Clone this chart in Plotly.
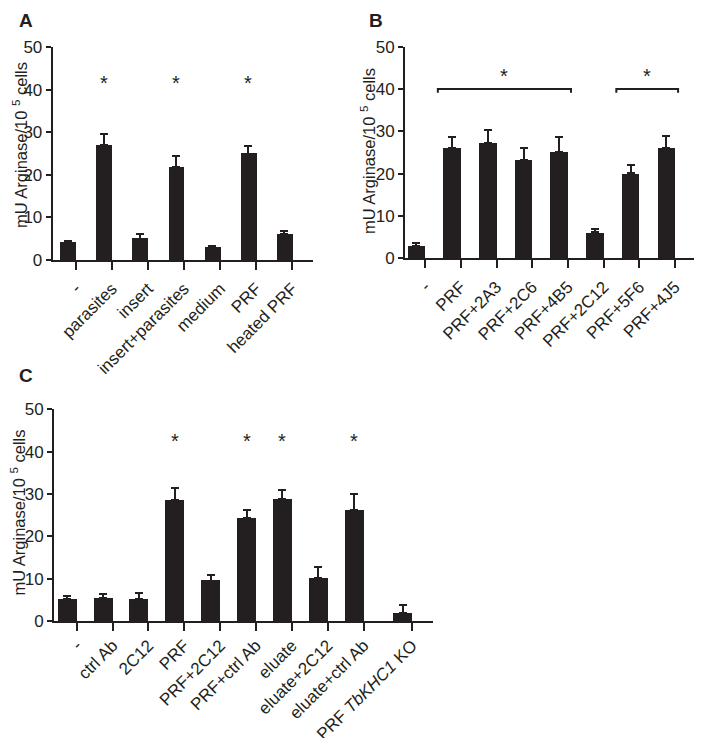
import plotly.graph_objects as go

# ---------------- data ----------------
a_labels = ["-", "parasites", "insert", "insert+parasites", "medium", "PRF", "heated PRF"]
a_values = [4.1, 27.0, 5.0, 21.9, 3.1, 25.0, 6.0]
a_errors = [0.4, 2.7, 1.0, 2.6, 0.2, 1.8, 0.9]
a_sig = [1, 3, 5]

b_labels = ["-", "PRF", "PRF+2A3", "PRF+2C6", "PRF+4B5", "PRF+2C12", "PRF+5F6", "PRF+4J5"]
b_values = [2.9, 26.1, 27.2, 23.2, 25.1, 6.1, 20.1, 26.1]
b_errors = [0.6, 2.6, 3.0, 2.9, 3.6, 0.9, 1.9, 2.7]
b_brackets = [(1, 4), (6, 7)]

c_labels = ["-", "ctrl Ab", "2C12", "PRF", "PRF+2C12", "PRF+ctrl Ab", "eluate",
            "eluate+2C12", "eluate+ctrl Ab", "PRF <i>TbKHC1</i> KO"]
c_values = [5.2, 5.35, 5.2, 28.6, 9.5, 24.3, 28.7, 10.2, 26.1, 1.9]
c_errors = [0.7, 0.95, 1.5, 2.7, 1.3, 1.9, 2.2, 2.6, 3.8, 1.9]
c_sig = [3, 5, 6, 8]

y_ticks = [0, 10, 20, 30, 40, 50]

# ---------------- style ----------------
INK = "#231f20"
FONT = "Liberation Sans, Arial, sans-serif"
PAGE_W, PAGE_H = 702, 738
OFF = 8  # default page body margin
W, H = PAGE_W - OFF, PAGE_H - OFF

fig = go.Figure()


def px_x(p):
    return min(1.0, max(0.0, (p - OFF) / W))


def px_y(p):
    return min(1.0, max(0.0, 1 - (p - OFF) / H))


panels = [
    dict(ax="", labels=a_labels, values=a_values, errors=a_errors,
         pos=list(range(len(a_labels))), width=0.44, xr=[-0.42, 6.79],
         xd=(52.7, 313), yd=(47.3, 260), standoff=2),
    dict(ax="2", labels=b_labels, values=b_values, errors=b_errors,
         pos=list(range(len(b_labels))), width=0.49, xr=[-0.32, 7.86],
         xd=(405, 697), yd=(46.7, 258.3), standoff=2),
    dict(ax="3", labels=c_labels, values=c_values, errors=c_errors,
         pos=list(range(len(c_labels) - 1)) + [len(c_labels) - 1 + 0.35], width=0.53,
         xr=[-0.37, 10.2], xd=(54, 433), yd=(409.3, 621), standoff=-2),
]

for p in panels:
    n = len(p["values"])
    fig.add_trace(go.Bar(
        x=p["pos"], y=p["values"], width=p["width"],
        marker=dict(color=INK, line=dict(width=0)),
        error_y=dict(type="data", array=p["errors"], arrayminus=[0] * n,
                     symmetric=False, color=INK, thickness=2, width=4),
        xaxis="x" + p["ax"], yaxis="y" + p["ax"], showlegend=False,
        hoverinfo="skip",
    ))
    xkey = "xaxis" + p["ax"]
    ykey = "yaxis" + p["ax"]
    fig.update_layout(**{
        xkey: dict(
            domain=[px_x(p["xd"][0]), px_x(p["xd"][1])],
            anchor="y" + p["ax"], range=p["xr"],
            tickvals=[x + p["width"] / 2 for x in p["pos"]],
            ticktext=p["labels"], tickangle=-45, ticklabelstandoff=p["standoff"],
            ticks="outside", ticklen=8, tickwidth=2, tickcolor=INK,
            showline=True, linewidth=2, linecolor=INK,
            showgrid=False, zeroline=False, automargin=False,
            tickfont=dict(family=FONT, size=17, color=INK),
            fixedrange=True,
        ),
        ykey: dict(
            domain=[px_y(p["yd"][1]), px_y(p["yd"][0])],
            anchor="x" + p["ax"], range=[0, 50],
            tickvals=y_ticks, ticks="outside", ticklen=5, tickwidth=2, tickcolor=INK,
            showline=True, linewidth=2, linecolor=INK,
            showgrid=False, zeroline=False, automargin=False,
            tickfont=dict(family=FONT, size=17, color=INK),
            fixedrange=True,
        ),
    })

annotations = []

for p, sig, ylev in [(panels[0], a_sig, 41.5), (panels[2], c_sig, 42.6)]:
    for i in sig:
        annotations.append(dict(
            x=p["pos"][i], y=ylev, xref="x" + p["ax"], yref="y" + p["ax"],
            text="*", showarrow=False, xanchor="center", yanchor="middle",
            font=dict(family=FONT, size=20, color=INK)))

pb = panels[1]
for i0, i1 in b_brackets:
    x0 = pb["pos"][i0] - 0.4
    x1 = pb["pos"][i1] + 0.33
    fig.add_trace(go.Scatter(
        x=[x0, x0, x1, x1], y=[39.1, 40, 40, 39.1], mode="lines",
        line=dict(color=INK, width=2), xaxis="x2", yaxis="y2",
        showlegend=False, hoverinfo="skip", cliponaxis=False))
    annotations.append(dict(
        x=(x0 + x1) / 2, y=43.1, xref="x2", yref="y2", text="*", showarrow=False,
        xanchor="center", yanchor="middle",
        font=dict(family=FONT, size=20, color=INK)))

ytitle = "mU Arginase/10 <sup>5</sup> cells"
for xc, yc in [(20, 145), (368, 151), (18.5, 513)]:
    annotations.append(dict(
        x=px_x(xc), y=px_y(yc), xref="paper", yref="paper", text=ytitle,
        textangle=-90, showarrow=False, xanchor="center", yanchor="middle",
        font=dict(family=FONT, size=16.5, color=INK)))

for letter, xl, yt in [("A", 17, 7), ("B", 367, 5), ("C", 17, 363)]:
    annotations.append(dict(
        x=px_x(xl), y=px_y(yt), xref="paper", yref="paper", text="<b>%s</b>" % letter,
        showarrow=False, xanchor="left", yanchor="top",
        font=dict(family=FONT, size=19, color=INK)))

fig.update_layout(
    width=W, height=H, autosize=False,
    margin=dict(l=0, r=0, t=0, b=0),
    paper_bgcolor="white", plot_bgcolor="white",
    annotations=annotations, bargap=0,
)

fig.write_html("out.html")
